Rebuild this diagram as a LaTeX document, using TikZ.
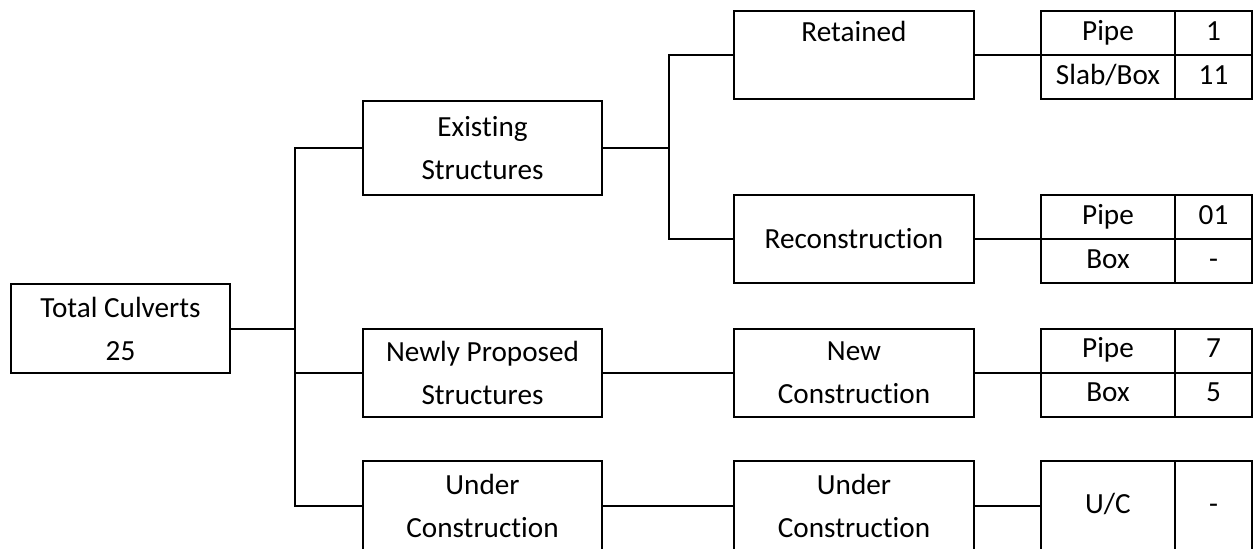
\documentclass[tikz,border=0pt]{standalone}
\usepackage{fontspec}
\setmainfont[Ligatures=NoCommon]{Carlito}
\begin{document}
\begin{tikzpicture}[x=0.5pt,y=-0.5pt,
  box/.style={draw,line width=1pt,inner sep=0pt,outer sep=0pt,
    minimum width=119.5pt,minimum height=44pt,align=center,
    font=\fontsize{14.6}{21.5}\selectfont},
  cellL/.style={box,minimum width=67pt,minimum height=22pt,text height=10pt,text depth=3pt},
  cellR/.style={box,minimum width=38.5pt,minimum height=22pt,text height=10pt,text depth=3pt},
  link/.style={line width=1pt}]
\useasboundingbox (0,0) rectangle (1253,548);
% level 0
\node[box,minimum width=109.5pt,minimum height=44.5pt] (tot) at (120.5,328.5) {Total Culverts\\25};
% level 1
\node[box,minimum height=47pt] (ex) at (482.5,148) {Existing\\Structures};
\node[box] (np) at (482.5,372.5) {Newly Proposed\\Structures};
\node[box,minimum height=45pt] (uca) at (482.5,506) {Under\\Construction};
% level 2
\node[box,minimum width=120pt,text height=0pt,text depth=0pt] (ret) at (854,55) {\raisebox{7pt}[0pt][0pt]{Retained}};
\node[box,minimum width=120pt] (rec) at (854,239) {Reconstruction};
\node[box,minimum width=120pt] (nc) at (854,372.5) {New\\Construction};
\node[box,minimum width=120pt,minimum height=45pt] (ucb) at (854,506) {Under\\Construction};
% tables
\node[cellL] (t1a) at (1108,33) {Pipe};
\node[cellR] (t1b) at (1213.5,33) {1};
\node[cellL] (t1c) at (1108,77) {Slab/Box};
\node[cellR] (t1d) at (1213.5,77) {11};
\node[cellL] (t2a) at (1108,217) {Pipe};
\node[cellR] (t2b) at (1213.5,217) {01};
\node[cellL] (t2c) at (1108,261) {Box};
\node[cellR] (t2d) at (1213.5,261) {-};
\node[cellL] (t3a) at (1108,350.5) {Pipe};
\node[cellR] (t3b) at (1213.5,350.5) {7};
\node[cellL] (t3c) at (1108,394.5) {Box};
\node[cellR] (t3d) at (1213.5,394.5) {5};
\node[cellL,minimum height=45pt] (t4a) at (1108,506) {U/C};
\node[cellR,minimum height=45pt] (t4b) at (1213.5,506) {-};
% junctions
\coordinate (ja) at (295,0);
\coordinate (jb) at (669,0);
% connectors
\draw[link] (tot.east) -- (tot.east -| ja);
\draw[link] (ex.west) -- (ex.west -| ja) -- (ja |- uca.west) -- (uca.west);
\draw[link] (np.west) -- (np.west -| ja);
\draw[link] (ex.east) -- (ex.east -| jb);
\draw[link] (ret.west) -- (ret.west -| jb) -- (jb |- rec.west) -- (rec.west);
\draw[link] (ret.east) -- (t1a.south west);
\draw[link] (rec.east) -- (t2a.south west);
\draw[link] (np.east) -- (nc.west);
\draw[link] (nc.east) -- (t3a.south west);
\draw[link] (uca.east) -- (ucb.west);
\draw[link] (ucb.east) -- (t4a.west);
\end{tikzpicture}
\end{document}
